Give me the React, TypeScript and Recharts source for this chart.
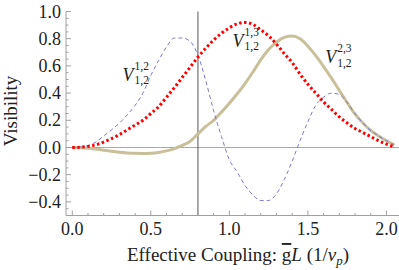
import { LineChart, Line, XAxis, YAxis, ReferenceLine, ReferenceDot } from 'recharts';

// effective coupling gL (1/v_p)
const couplings = [
  0, 0.05, 0.1, 0.15, 0.2, 0.25, 0.3, 0.35, 0.4, 0.45, 0.5, 0.55, 0.6, 0.65,
  0.7, 0.75, 0.8, 0.85, 0.9, 0.95, 1.0, 1.05, 1.1, 1.15, 1.2, 1.25, 1.3, 1.35,
  1.4, 1.45, 1.5, 1.55, 1.6, 1.65, 1.7, 1.75, 1.8, 1.85, 1.9, 1.95, 2.0, 2.05,
];

// V^{1,2}_{1,2} (blue dashed)
const vis12 = [
  0, 0.003, 0.015, 0.04, 0.085, 0.13, 0.18, 0.24, 0.31, 0.4, 0.53, 0.64, 0.74, 0.805,
  0.805, 0.78, 0.68, 0.49, 0.27, 0.08, -0.09, -0.18, -0.28, -0.35, -0.39, -0.39, -0.34, -0.235,
  -0.1, 0.05, 0.19, 0.31, 0.37, 0.4, 0.39, 0.33, 0.25, 0.18, 0.125, 0.085, 0.05, 0.02,
];

// V^{1,3}_{1,2} (red dotted)
const vis13 = [
  0, 0.002, 0.008, 0.02, 0.04, 0.065, 0.095, 0.13, 0.165, 0.2, 0.25, 0.3, 0.37, 0.44,
  0.515, 0.59, 0.665, 0.73, 0.79, 0.84, 0.88, 0.91, 0.92, 0.905, 0.865, 0.82, 0.76, 0.69,
  0.625, 0.54, 0.465, 0.4, 0.335, 0.28, 0.225, 0.18, 0.14, 0.11, 0.08, 0.05, 0.025, 0.005,
];

// V^{2,3}_{1,2} (khaki solid)
const vis23 = [
  0, -0.001, -0.005, -0.012, -0.02, -0.028, -0.035, -0.04, -0.043, -0.044, -0.042, -0.036, -0.025, -0.008,
  0.015, 0.045, 0.1, 0.155, 0.2, 0.26, 0.325, 0.395, 0.47, 0.555, 0.645, 0.72, 0.775, 0.81,
  0.82, 0.8, 0.745, 0.675, 0.595, 0.51, 0.42, 0.33, 0.245, 0.18, 0.125, 0.085, 0.05, 0.02,
];

const xMajor = [0, 0.5, 1.0, 1.5, 2.0];
const yMajor = [-0.4, -0.2, 0, 0.2, 0.4, 0.6, 0.8, 1.0];
const xMinor = Array.from({ length: 21 }, (_, i) => i / 10);
const yMinor = Array.from({ length: 31 }, (_, i) => -0.5 + i / 20);

const data = couplings.map((x, i) => ({ x, v12: vis12[i], v13: vis13[i], v23: vis23[i] }));

const FONT = "'Liberation Serif', 'Times New Roman', serif";
const AXIS = '#a0a0a0';

const isMajor = (list: number[], v: number) => list.some(m => Math.abs(m - v) < 1e-6);
const fmt = (v: number) => (v < -1e-9 ? '\u2212' : '') + Math.abs(v).toFixed(1);

function XTick({ x, y, payload }: any) {
  const major = isMajor(xMajor, payload.value);
  return (
    <g>
      <line x1={x} x2={x} y1={y} y2={y - (major ? 5 : 2.5)} stroke={AXIS} />
      {major && (
        <text x={x} y={y + 19} textAnchor="middle" fontFamily={FONT} fontSize={18} fill="#222">
          {fmt(payload.value)}
        </text>
      )}
    </g>
  );
}

function YTick({ x, y, payload }: any) {
  const major = isMajor(yMajor, payload.value);
  return (
    <g>
      <line x1={x} x2={x + (major ? 5 : 2.5)} y1={y} y2={y} stroke={AXIS} />
      {major && (
        <text x={x - 5} y={y + 6} textAnchor="end" fontFamily={FONT} fontSize={18} fill="#222">
          {fmt(payload.value)}
        </text>
      )}
    </g>
  );
}

const curveLabel = (sup: string) => ({ cx, cy }: any) => (
  <g fontFamily={FONT} fill="#222">
    <text x={cx} y={cy} fontSize={18} fontStyle="italic">V</text>
    <text x={cx + 12} y={cy - 11} fontSize={11.5}>{sup}</text>
    <text x={cx + 12} y={cy + 3.5} fontSize={11.5}>1,2</text>
  </g>
);

export default function App() {
  return (
    <div style={{ position: 'absolute', left: 0, top: 0, width: 399, height: 270, background: '#fff' }}>
      <LineChart width={399} height={270} data={data} margin={{ top: 11.5, right: 0, bottom: 0, left: 0 }}>
        <XAxis
          type="number" dataKey="x" domain={[-0.04, 2.08]} allowDataOverflow
          ticks={xMinor} interval={0} tick={<XTick />} tickSize={0} tickMargin={0}
          tickLine={false} height={54.5} axisLine={{ stroke: AXIS }}
        />
        <YAxis
          type="number" domain={[-0.5, 1.0]} allowDataOverflow
          ticks={yMinor} interval={0} tick={<YTick />} tickSize={0} tickMargin={0}
          tickLine={false} width={66} axisLine={{ stroke: AXIS }}
        />
        <ReferenceLine y={0} stroke="#a8a8a8" strokeWidth={1} />
        <ReferenceLine x={0.8} stroke="#555" strokeWidth={1} />
        <Line dataKey="v23" type="monotone" stroke="#c9bf99" strokeWidth={3} dot={false} isAnimationActive={false} />
        <Line dataKey="v12" type="monotone" stroke="#7a7ad2" strokeWidth={1} strokeDasharray="4 3" dot={false} isAnimationActive={false} />
        <Line dataKey="v13" type="monotone" stroke="#ff0000" strokeWidth={3} strokeDasharray="2.5 2.5" dot={false} isAnimationActive={false} />
        <ReferenceDot x={0.32} y={0.49} ifOverflow="visible" shape={curveLabel('1,2')} />
        <ReferenceDot x={1.02} y={0.74} ifOverflow="visible" shape={curveLabel('1,3')} />
        <ReferenceDot x={1.61} y={0.62} ifOverflow="visible" shape={curveLabel('2,3')} />
      </LineChart>
      <svg width={399} height={270} style={{ position: 'absolute', left: 0, top: 0, pointerEvents: 'none' }}>
        <text transform="translate(17,111) rotate(-90)" textAnchor="middle" fontFamily={FONT} fontSize={19} fill="#222">
          Visibility
        </text>
        <text x={127} y={261} fontFamily={FONT} fontSize={19} fill="#222">
          Effective Coupling: <tspan style={{ textDecoration: 'overline' }}>g</tspan>
          <tspan fontStyle="italic">L</tspan> (1/<tspan fontStyle="italic">ν</tspan>
          <tspan fontStyle="italic" fontSize={13} dy={4}>p</tspan>
          <tspan dy={-4}>)</tspan>
        </text>
      </svg>
    </div>
  );
}
